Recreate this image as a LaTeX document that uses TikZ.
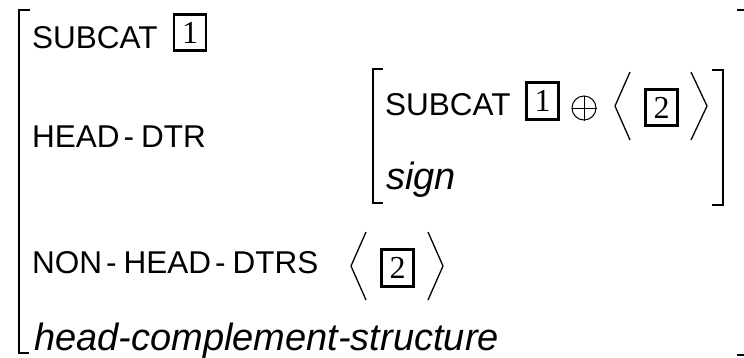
\documentclass[tikz,border=0pt]{standalone}
\usepackage{fontspec}
\setmainfont{Liberation Sans}
\newfontfamily\numfont{Liberation Serif}
\newcommand{\hyph}{\kern4pt-\kern7pt}
\begin{document}
\begin{tikzpicture}[x=1pt,y=-1pt,
  lbl/.style={anchor=base west,inner sep=0pt,font=\fontsize{31.5}{36}\selectfont},
  itlbl/.style={anchor=base west,inner sep=0pt,font=\fontsize{38}{44}\selectfont\itshape},
  tagbox/.style={draw,line width=2.6pt,inner sep=0pt,minimum width=32pt,minimum height=36.5pt,font=\fontsize{32}{36}\selectfont\numfont},
  brk/.style={line width=2.6pt},
  ang/.style={line width=1.3pt}]
\useasboundingbox (0,0) rectangle (744,357);
% outer bracket
\draw[brk] (30,10) -- (19,10) -- (19,353) -- (29,353);
\draw[brk] (737,10) -- (745,10);
\draw[brk] (737,355) -- (745,355);
% row 1
\node[lbl] (sub1) at (32,48) {SUBCAT};
\node[tagbox] (t1a) at (190,32.5) {1};
% row 2
\node[lbl] (hd) at (32,147) {HEAD\hyph DTR};
\draw[brk] (383,69) -- (373,69) -- (373,203) -- (383,203);
\draw[brk] (712,70) -- (723,70) -- (723,205) -- (712,205);
\node[lbl] (sub2) at (385,115) {SUBCAT};
\node[tagbox] (t1b) at (542.5,101) {1};
\node[circle,draw,line width=1pt,minimum size=24pt,inner sep=0pt] (oplus) at (584,108) {};
\draw[line width=1pt] (oplus.north) -- (oplus.south) (oplus.west) -- (oplus.east);
\draw[ang] (630,72) -- (615,106) -- (630,140);
\node[tagbox] (t2a) at (661.5,107.5) {2};
\draw[ang] (691,72) -- (707,106) -- (691,140);
\node[itlbl] (sign) at (386,189) {sign};
% row 3
\node[lbl] (nhd) at (32,273) {NON\hyph HEAD\hyph DTRS};
\draw[ang] (366,232) -- (351,266) -- (366,300);
\node[tagbox] (t2b) at (397.5,268) {2};
\draw[ang] (428,232) -- (443,266) -- (428,300);
% type
\node[itlbl] (hcs) at (34,350) {head-complement-structure};
\end{tikzpicture}
\end{document}
